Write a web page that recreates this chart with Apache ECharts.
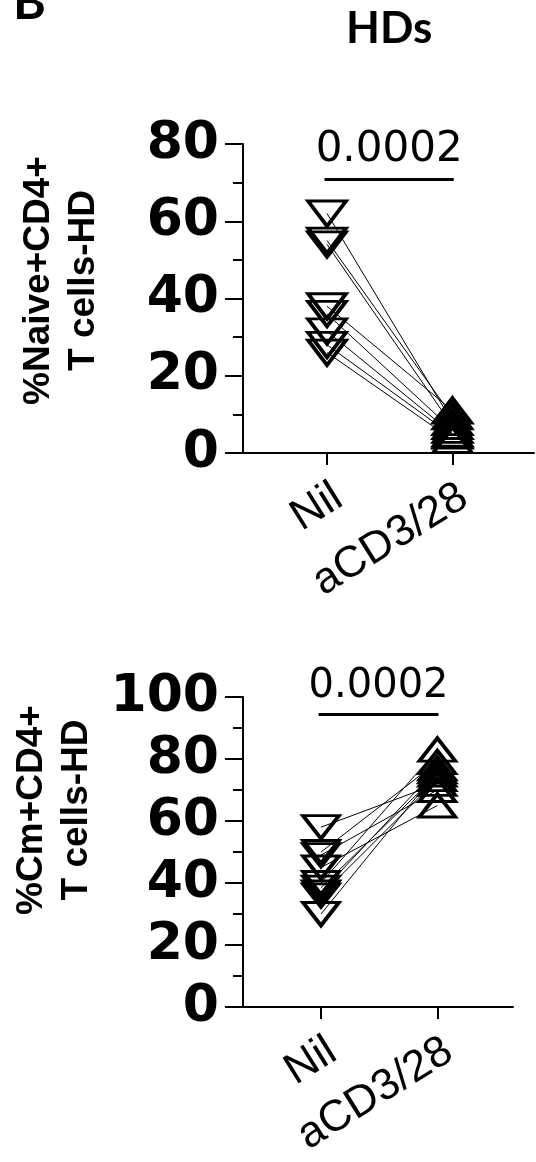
<!DOCTYPE html>
<html>
<head>
<meta charset="utf-8">
<script src="https://cdn.jsdelivr.net/npm/echarts@6/dist/echarts.min.js"></script>
<style>
html,body{margin:0;padding:0;background:#fff;}
#chart{width:536px;height:1162px;}
</style>
</head>
<body>
<div id="chart"></div>
<script>
// ---- data ----
const categories = ['Nil', 'aCD3/28'];
const naiveNil  = [62, 55, 54, 38, 36, 31.5, 28, 26];
const naiveStim = [8, 9.5, 7, 11, 6, 5, 4.5, 3.4];
const cmNil     = [58, 50, 49, 45, 40, 38.5, 37, 36, 30];
const cmStim    = [72, 79, 70, 65, 83, 75, 77, 73.5, 76];
const yNames    = ['%Naive+CD4+\nT cells-HD', '%Cm+CD4+\nT cells-HD'];
const yMax      = [80, 100];
const pValues   = ['0.0002', '0.0002'];
const sigLevel  = [71, 94.4];
const panelTitle = 'HDs';
const panelLetter = 'B';

// ---- chart ----
const chart = echarts.init(document.getElementById('chart'), null, {renderer: 'canvas'});
const BLACK = '#000';
const grids = [
  {left: 243, top: 144, width: 291, height: 309},
  {left: 243, top: 697, width: 270, height: 310}
];
const nameShift = [36, 84];

function xAxis(i) {
  return {
    type: 'value', gridIndex: i, min: 0.33, max: 2.65,
    splitLine: {show: false},
    axisLine: {lineStyle: {color: BLACK, width: 2}},
    axisTick: {customValues: [1, 2], length: 12, lineStyle: {color: BLACK, width: 2}},
    axisLabel: {
      customValues: [1, 2],
      formatter: v => categories[Math.round(v) - 1],
      rotate: 32, margin: 22, verticalAlign: 'top',
      fontFamily: 'Liberation Sans', fontSize: 44, color: BLACK
    }
  };
}
function yAxis(i) {
  return {
    type: 'value', gridIndex: i, min: 0, max: yMax[i], interval: 20,
    splitLine: {show: false},
    axisLine: {show: true, lineStyle: {color: BLACK, width: 2}},
    axisTick: {show: true, length: 18, lineStyle: {color: BLACK, width: 2}},
    minorTick: {show: true, splitNumber: 2, length: 10, lineStyle: {color: BLACK, width: 2}},
    axisLabel: {margin: 24, fontFamily: 'DejaVu Sans', fontWeight: 'bold', fontSize: 52, color: BLACK},
    name: yNames[i], nameLocation: 'middle', nameGap: 137,
    nameTextStyle: {
      fontFamily: 'Liberation Sans', fontWeight: 'bold', fontSize: 37, lineHeight: 45,
      color: BLACK, align: 'center', padding: [0, 0, 0, nameShift[i]]
    }
  };
}

const series = [];
const symSize = [[38, 25], [36, 23]];
const markStyle = {color: 'rgba(0,0,0,0)', borderColor: BLACK, borderWidth: 3.5, opacity: 1};
function addPanel(i, nil, stim) {
  nil.forEach((v, k) => {
    series.push({
      type: 'line', xAxisIndex: i, yAxisIndex: i,
      data: [[1, v], [2, stim[k]]],
      symbol: 'none', lineStyle: {color: BLACK, width: 1, opacity: 1}, z: 2, silent: true
    });
  });
  series.push({
    type: 'scatter', xAxisIndex: i, yAxisIndex: i,
    data: nil.map(v => [1, v]),
    symbol: 'triangle', symbolRotate: 180, symbolSize: symSize[i],
    itemStyle: markStyle, z: 3,
    markLine: {
      silent: true, symbol: ['none', 'none'],
      lineStyle: {color: BLACK, width: 3, type: 'solid', opacity: 1},
      label: {
        show: true, position: 'middle', formatter: pValues[i], distance: 8,
        fontFamily: 'DejaVu Sans', fontSize: i === 0 ? 42 : 40, color: BLACK
      },
      data: [[{coord: [0.98, sigLevel[i]]}, {coord: [2.01, sigLevel[i]]}]]
    }
  });
  series.push({
    type: 'scatter', xAxisIndex: i, yAxisIndex: i,
    data: stim.map(v => [2, v]),
    symbol: 'triangle', symbolSize: symSize[i],
    itemStyle: markStyle, z: 3
  });
}
addPanel(0, naiveNil, naiveStim);
addPanel(1, cmNil, cmStim);

chart.setOption({
  animation: false,
  backgroundColor: '#fff',
  title: {
    text: panelTitle, left: 341, top: 2,
    textStyle: {fontFamily: 'Lato', fontWeight: 'bold', fontSize: 44, color: BLACK}
  },
  graphic: [{
    type: 'text', left: 13, top: -22,
    style: {text: panelLetter, font: 'bold 50px Lato', fill: BLACK}
  }],
  grid: grids,
  xAxis: [xAxis(0), xAxis(1)],
  yAxis: [yAxis(0), yAxis(1)],
  series: series
});
</script>
</body>
</html>
